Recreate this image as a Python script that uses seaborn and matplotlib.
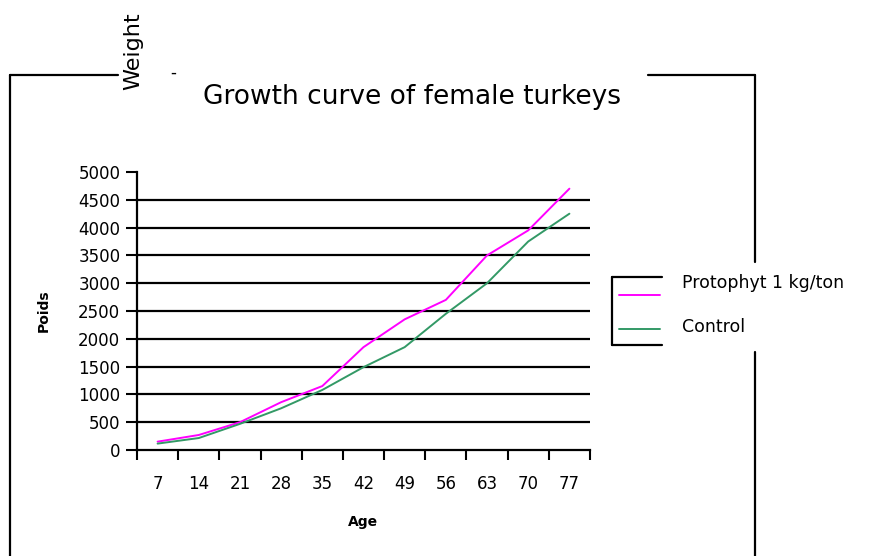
import numpy as np
import pandas as pd
import seaborn as sns
import matplotlib.pyplot as plt
from matplotlib.lines import Line2D

ages = [7, 14, 21, 28, 35, 42, 49, 56, 63, 70, 77]
protophyt = [150, 270, 500, 860, 1150, 1850, 2350, 2700, 3500, 3950, 4700]
control = [115, 215, 470, 750, 1080, 1490, 1850, 2450, 3000, 3750, 4250]
series_names = ["Protophyt 1 kg/ton", "Control"]
y_ticks = [0, 500, 1000, 1500, 2000, 2500, 3000, 3500, 4000, 4500, 5000]

df = pd.DataFrame({"Age": ages * 2,
                   "Poids": protophyt + control,
                   "series": [series_names[0]] * len(ages) + [series_names[1]] * len(ages)})

sns.set_theme(style="white")
plt.rcParams["font.family"] = ["DejaVu Sans"]
plt.rcParams["text.color"] = "black"
plt.rcParams["axes.labelcolor"] = "black"
plt.rcParams["xtick.color"] = "black"
plt.rcParams["ytick.color"] = "black"

W, H = 873, 556
fig = plt.figure(figsize=(W / 100, H / 100), dpi=100)
ax = fig.add_axes([137 / W, 1 - 450 / H, (590 - 137) / W, (450 - 172) / H])

palette = {series_names[0]: "#ff00ff", series_names[1]: "#339966"}
sns.lineplot(data=df, x="Age", y="Poids", hue="series", palette=palette,
             linewidth=1.4, ax=ax, legend=False)

# gridlines (Excel style, black)
for v in y_ticks[1:-1]:
    ax.axhline(v, color="black", linewidth=1.6, zorder=0)

step = ages[1] - ages[0]
ax.set_xlim(ages[0] - step / 2, ages[-1] + step / 2)
ax.set_ylim(0, y_ticks[-1])
ax.set_yticks(y_ticks)
ax.set_yticklabels([str(v) for v in y_ticks], fontsize=12)
ax.set_xticks(ages)
ax.set_xticklabels([str(a) for a in ages], fontsize=12)
ax.set_xticks([a - step / 2 for a in ages] + [ages[-1] + step / 2], minor=True)
ax.tick_params(axis="x", which="major", length=0, pad=18)
ax.tick_params(axis="x", which="minor", length=7, width=1.5, direction="out", color="black", bottom=True)
ax.tick_params(axis="y", length=8, width=1.5, direction="out", color="black", left=True, pad=4)

for s in ["top", "right"]:
    ax.spines[s].set_visible(False)
for s in ["left", "bottom"]:
    ax.spines[s].set_color("black")
    ax.spines[s].set_linewidth(1.6)

ax.set_xlabel("Age", fontsize=10, fontweight="bold", labelpad=16)
ax.set_ylabel("Poids", fontsize=10, fontweight="bold", labelpad=20)

fig.text(412 / W, 1 - 97 / H, "Growth curve of female turkeys", ha="center", va="center", fontsize=19)
fig.text(133 / W, 1 - 51 / H, "Weight", rotation=90, ha="center", va="center", fontsize=16)
fig.text(173 / W, 1 - 73 / H, "-", ha="center", va="center", fontsize=12)

# outer frame with gaps
def fline(x0, y0, x1, y1):
    fig.add_artist(Line2D([x0 / W, x1 / W], [1 - y0 / H, 1 - y1 / H], color="black", linewidth=1.6))

fline(10, 75, 118, 75)
fline(648, 75, 755, 75)
fline(10, 75, 10, 556)
fline(755, 75, 755, 262)
fline(755, 352, 755, 556)

# legend bracket
fline(612, 277, 662, 277)
fline(612, 277, 612, 345)
fline(612, 345, 662, 345)
line_y = [295, 329]
text_y = [283, 327]
for name, ly, ty in zip(series_names, line_y, text_y):
    fig.add_artist(Line2D([619 / W, 660 / W], [1 - ly / H, 1 - ly / H], color=palette[name], linewidth=1.4))
    fig.text(682 / W, 1 - ty / H, name, ha="left", va="center", fontsize=12.5)

fig.savefig("out.png", dpi=100)
